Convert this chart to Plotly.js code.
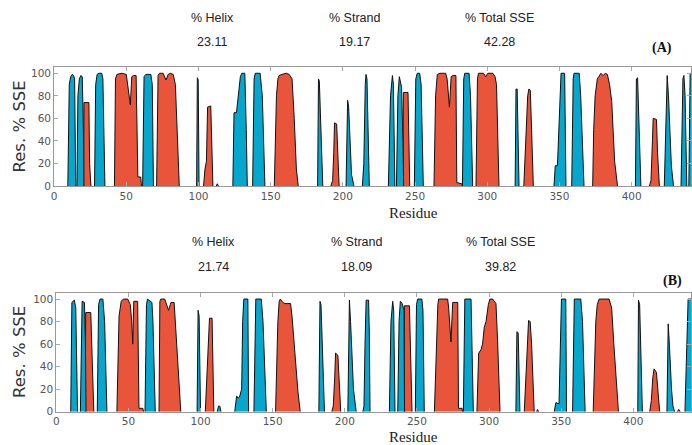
<!DOCTYPE html>
<html>
<head>
<meta charset="utf-8">
<script src="https://cdn.plot.ly/plotly-3.0.1.min.js"></script>
<style>html,body{margin:0;padding:0;background:#fff;}#chart{width:692px;height:445px;}</style>
</head>
<body>
<div id="chart"></div>
<script>
// ---- Data (residue, % SSE), one sub-array per secondary-structure element ----
const statLabels = ['% Helix', '% Strand', '% Total SSE'];
const statsA = ['23.11', '19.17', '42.28'];
const statsB = ['21.74', '18.09', '39.82'];
const xTicks = [0, 50, 100, 150, 200, 250, 300, 350, 400];
const yTicks = [0, 20, 40, 60, 80, 100];

// Panel A helix
const helixA_x = [
  [20.5,20.7,24.1,24.6,25.5],
  [41.8,42.5,43.5,47,50,51,52,52.8,53.8,55,56.8,57.5,58,60,60.5],
  [71,72,73,75.5,77.5,79,80.5,82.5,84,86.7],
  [103.5,104.5,105.5,106.3,108.5,110],
  [152.5,153,154,155,155.8,157.8,160.8,162.8,163.8,164.8,166.3,167.8,169.1],
  [191.7,192.9,193.7,194.2,195.7,196.4,197.4],
  [241.6,241.9,245.1,246.3],
  [263.1,264.2,265.4,267.2,271.2,272.2,273.8,275,276.3,278.3,278.9,282.3,282.8],
  [292.2,293.2,293.9,297.4,298.9,300.4,303.9,305.4,306.4,308.1],
  [325.3,326.5,328,328.8,329.8,330.7,331.9],
  [373,373.7,374.7,376.2,377.2,378.7,380.2,381.7,383.2,384.7,386.2,388.2,390.2],
  [412.3,413.4,414.4,414.9,417.2,417.9,419.2]
];
const helixA_y = [
  [0,74,74,20,0],
  [0,95,99,100,99,90,82,72,97,98,98,40,8,8,0],
  [0,98,100,100,94,99,100,99,90,0],
  [0,15,22,70,71,0],
  [0,40,80,95,98,99,100,99,97,95,60,15,0],
  [0,5,30,56,55,30,0],
  [0,83,83,0],
  [0,80,99,100,100,95,70,97,98,98,3,2,0],
  [0,95,100,100,97,100,100,97,90,0],
  [0,40,80,86,85,50,0],
  [0,50,80,95,97,100,98,100,99,90,75,22,0],
  [0,5,40,60,59,30,0]
];
// Panel A strand
const strandA_x = [
  [9.5,10.5,11.5,12.5,13.5,14.2,15],
  [15.8,16.5,17.5,18.5,19.5,20.3,20.6],
  [28,28.8,29.8,31,33,33.8,35.2],
  [61.3,62.3,63.5,67,68,68.8],
  [98.7,99.2,99.8,100.4],
  [112.3,113,113.8],
  [123.8,124.3,124.6,126.3,127.5,129,130,132.1,133.1,133.8],
  [137.5,138.5,139.3,142.7,144.2,146],
  [182.5,183.1,183.7,184.4,185.4,186.1],
  [202.2,203.3,204,205,206,207.7],
  [213.5,214.5,215.5,216,216.7,217.5,218.3],
  [231.5,233,234.3,235,236],
  [237.1,238.1,239.1,240.6,241.6,242.1],
  [249.5,250.5,251.5,253.2,254.2,255.7],
  [282.8,283.7,284.4,287.4,288.4,289.9],
  [319.3,319.9,320.7,322],
  [346.2,347.1,348.6,349.9,351.1,353.6,354.5],
  [358.5,359.5,360.1,363.7,364.7,367],
  [402.6,403.3,404.1,404.8,406.4],
  [422.6,424,424.6,425.5,426.5,427.5,429],
  [434.2,435.5,436.2,437,438.2],
  [439.6,440.5,441.5]
];
const strandA_y = [
  [0,90,97,99,98,95,0],
  [0,80,95,98,97,50,0],
  [0,90,99,100,100,95,0],
  [0,97,99,99,90,0],
  [0,96,94,0],
  [0,2,0],
  [0,40,65,65,80,97,100,100,50,0],
  [0,95,100,100,80,0],
  [0,95,93,60,10,0],
  [0,76,70,30,10,0],
  [0,20,90,99,95,40,0],
  [0,80,98,90,0],
  [0,80,97,88,40,0],
  [0,95,100,100,90,0],
  [0,95,100,100,80,0],
  [0,86,86,0],
  [0,18,18,60,100,100,0],
  [0,95,100,100,80,0],
  [0,95,96,60,0],
  [0,80,98,80,40,18,0],
  [0,95,98,80,0],
  [0,100,100]
];
// Panel B helix
const helixB_x = [
  [20,20.4,23.9,24.8,26],
  [42,42.8,43.5,45,46.5,49.5,51.3,52.3,53,53.7,56.4,57.3,60,60.5],
  [71.2,71.8,72.5,75.2,76,77.8,79,79.5,81.7,82.5,84,85.2,86.3],
  [103.3,104.5,105.5,106.2,108,108.6,109.2],
  [152,152.8,153.6,154.5,155.3,157,158.5,160.5,162.4,163.4,165,166.5,167.5,169.1],
  [191,192,193,193.6,195.2,196,197.2],
  [241.1,241.3,244.8,245.6,246.6],
  [262.1,263.5,264.5,265.1,271.3,272,273.6,274.8,278.3,278.8,281.3,281.6],
  [291.6,292.3,292.8,294.4,295.5,296.7,297.9,299.5,300.6,302.5,303.5,304.8,306,307.6],
  [324.4,325.5,326.5,327.4,328.5,329.5,331.3],
  [372.2,373,374,375,376.3,383.2,384,385,386.5,388,389.7],
  [411.4,412.5,413.5,414.4,416,416.8,418.3]
];
const helixB_y = [
  [0,88,88,40,0],
  [0,40,85,98,100,100,95,80,60,98,98,3,3,0],
  [0,98,100,100,97,90,95,97,97,80,40,18,0],
  [0,40,75,83,83,50,0],
  [0,40,80,98,100,97,96,96,96,85,60,30,18,0],
  [0,5,30,52,50,30,0],
  [0,94,94,50,0],
  [0,60,95,100,100,92,62,97,97,3,3,0],
  [0,40,52,55,60,75,80,95,100,100,98,96,60,0],
  [0,30,60,81,80,60,0],
  [0,40,80,95,100,100,95,92,60,30,0],
  [0,10,30,38,35,20,0]
];
// Panel B strand
const strandB_x = [
  [10,10.8,12.5,13.5,14.7],
  [16.7,17.9,19.5,20.2,20.6],
  [28.4,29.3,30.3,32.3,33.5,35.1],
  [61.5,62.5,63.2,64.5,66.3,67,68.6],
  [97.6,98.3,99,100],
  [111.5,112.5,113.3,114.2],
  [123.7,124.5,125,126,127,128.5,129.2,130,132.8,133.3],
  [137,137.8,138.3,142.1,143.3,145.6],
  [182,182.8,183.5,184.5,185.9],
  [202.1,202.7,203.2,204,205,206,207.9],
  [212.5,213.3,214,214.8,216.5,217,217.5],
  [230.9,232,233.2,233.9,234.8],
  [236.7,237.6,238.5,239.8,241,241.4],
  [248.9,249.7,250.5,253.4,254.2,255.1],
  [282.2,282.8,283.2,287.5,288.3,289.1],
  [318.6,319.3,320.2,321.4],
  [333,333.6,334.3],
  [345.2,346.3,348.5,349.2,350.2,353.2,353.7],
  [357.9,358.6,359.1,363.6,364.8,366.6],
  [403.1,403.6,404.4,405.3,406.3],
  [423.3,423.8,424.2,425,425.8,426.5,427.5,428.6],
  [430.5,431.5,432.5],
  [435.8,437,438,440.5]
];
const strandB_y = [
  [0,97,99,92,0],
  [0,98,97,60,0],
  [0,95,100,100,80,0],
  [0,95,100,99,97,80,0],
  [0,90,85,0],
  [0,5,5,0],
  [0,10,14,12,13,20,80,100,100,0],
  [0,95,100,100,80,0],
  [0,98,95,50,0],
  [0,90,99,80,40,20,0],
  [0,5,60,99,99,70,0],
  [0,80,98,90,0],
  [0,80,98,96,90,0],
  [0,95,100,100,90,0],
  [0,98,100,100,60,0],
  [0,71,70,0],
  [0,2,0],
  [0,8,7,40,100,100,0],
  [0,95,100,100,80,0],
  [0,99,95,40,0],
  [0,70,78,60,30,20,5,0],
  [0,2,0],
  [0,60,100,100]
];

// ---- helpers ----
function joinSegs(segs) {
  const out = [];
  segs.forEach((s, i) => { if (i > 0) out.push(null); out.push(...s); });
  return out;
}
const HELIX = '#E9553B', STRAND = '#05A7CE';
function areaTrace(xs, ys, color, xa, ya) {
  return {
    type: 'scatter', mode: 'lines',
    x: joinSegs(xs), y: joinSegs(ys),
    xaxis: xa, yaxis: ya,
    fill: 'tozeroy', fillcolor: color,
    line: {color: '#111', width: 1},
    connectgaps: false, hoverinfo: 'skip', showlegend: false
  };
}

const data = [
  areaTrace(helixA_x, helixA_y, HELIX, 'x', 'y'),
  areaTrace(strandA_x, strandA_y, STRAND, 'x', 'y'),
  areaTrace(helixB_x, helixB_y, HELIX, 'x2', 'y2'),
  areaTrace(strandB_x, strandB_y, STRAND, 'x2', 'y2')
];

const W = 692, H = 445;
const px = v => v / W, py = v => 1 - v / H;
const tickFont = {family: 'DejaVu Sans, sans-serif', size: 10.5, color: '#555'};
function xAxis(domain, range, anchor) {
  return {domain, range, anchor, tickvals: xTicks, ticktext: xTicks.map(String),
    ticks: 'inside', ticklen: 4, tickcolor: '#aaa', mirror: 'ticks',
    showline: true, linecolor: '#999', linewidth: 1, showgrid: false, zeroline: false,
    tickfont: tickFont, fixedrange: true};
}
function yAxis(domain, range, anchor) {
  return {domain, range, anchor, tickvals: yTicks, ticktext: yTicks.map(String),
    ticks: 'inside', ticklen: 4, tickcolor: '#aaa', mirror: 'ticks',
    showline: true, linecolor: '#999', linewidth: 1, showgrid: false, zeroline: false,
    tickfont: tickFont, fixedrange: true};
}

const ann = [];
function txt(text, x, y, font, extra) {
  ann.push(Object.assign({text, x: px(x), y: py(y), xref: 'paper', yref: 'paper',
    xanchor: 'center', yanchor: 'middle', showarrow: false, font}, extra || {}));
}
const statFont = {family: 'Liberation Sans, Arial, sans-serif', size: 12.5, color: '#222'};
const panelFont = {family: 'Liberation Serif, Times New Roman, serif', size: 14, color: '#111', weight: 'bold'};
const resFont = {family: 'Liberation Serif, Times New Roman, serif', size: 15, color: '#222'};
const ylabFont = {family: 'DejaVu Sans, sans-serif', size: 16.5, color: '#333'};
const statX = [212, 355, 499];
statLabels.forEach((t, i) => txt(t, statX[i], 18, statFont));
statsA.forEach((t, i) => txt(t, statX[i], 42, statFont));
statLabels.forEach((t, i) => txt(t, statX[i] + 1, 242, statFont));
statsB.forEach((t, i) => txt(t, statX[i] + 1, 267, statFont));
txt('<b>(A)</b>', 662, 48, panelFont);
txt('<b>(B)</b>', 672, 281, panelFont);
txt('Residue', 413, 213, resFont);
txt('Residue', 413, 437, resFont);
txt('Res. % SSE', 18.5, 127, ylabFont, {textangle: -90});
txt('Res. % SSE', 19, 352, ylabFont, {textangle: -90});

const layout = {
  width: W, height: H,
  margin: {l: 0, r: 0, t: 0, b: 0},
  paper_bgcolor: '#fff', plot_bgcolor: '#fff',
  showlegend: false,
  xaxis: xAxis([px(54.1), px(691)], [0, 441.1], 'y'),
  yaxis: yAxis([py(186), py(67.3)], [0, 105.3], 'x'),
  xaxis2: xAxis([px(56.3), px(691)], [0, 440.0], 'y2'),
  yaxis2: yAxis([py(411.7), py(293.3)], [0, 105.1], 'x2'),
  annotations: ann
};

Plotly.newPlot('chart', data, layout, {staticPlot: true, displayModeBar: false});
</script>
</body>
</html>
